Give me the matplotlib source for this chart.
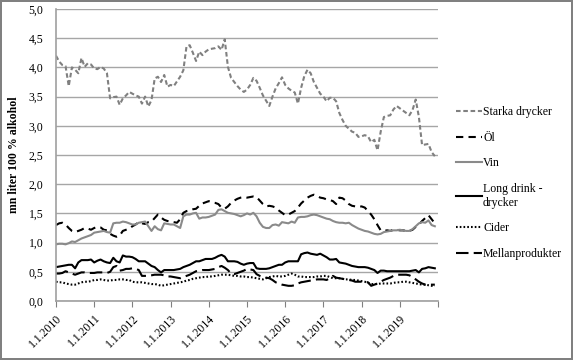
import numpy as np
import matplotlib
matplotlib.use("Agg")
import matplotlib.pyplot as plt

# monthly values, Jan 2010 .. Dec 2019 (mn liter 100 % alkohol)
starka = [4.20, 4.10, 4.04, 4.02, 3.68, 4.00, 3.96, 3.90, 4.16, 4.01, 4.07, 4.05,
          3.98, 3.97, 4.01, 3.98, 3.90, 3.47, 3.49, 3.50, 3.36, 3.47, 3.52, 3.58,
          3.55, 3.52, 3.50, 3.38, 3.50, 3.33, 3.44, 3.81, 3.84, 3.75, 3.87, 3.67,
          3.70, 3.68, 3.76, 3.84, 3.95, 4.36, 4.38, 4.25, 4.11, 4.27, 4.21, 4.27,
          4.31, 4.32, 4.33, 4.36, 4.30, 4.48, 4.01, 3.82, 3.75, 3.68, 3.62, 3.58,
          3.62, 3.70, 3.82, 3.77, 3.65, 3.52, 3.43, 3.34, 3.50, 3.64, 3.73, 3.83,
          3.70, 3.64, 3.60, 3.57, 3.38, 3.65, 3.85, 3.96, 3.90, 3.75, 3.65, 3.55,
          3.50, 3.42, 3.48, 3.48, 3.42, 3.22, 3.10, 3.00, 2.95, 2.90, 2.88, 2.81,
          2.82, 2.84, 2.82, 2.72, 2.76, 2.58, 2.90, 3.15, 3.17, 3.18, 3.28, 3.34,
          3.30, 3.26, 3.22, 3.18, 3.27, 3.45, 3.15, 2.67, 2.68, 2.69, 2.55, 2.48]

ol = [1.30, 1.33, 1.34, 1.31, 1.25, 1.20, 1.18, 1.20, 1.22, 1.25, 1.24, 1.22,
      1.25, 1.27, 1.26, 1.22, 1.21, 1.15, 1.12, 1.10, 1.12, 1.20, 1.22, 1.24,
      1.28, 1.31, 1.35, 1.33, 1.32, 1.35, 1.36, 1.42, 1.48, 1.43, 1.39, 1.37,
      1.36, 1.35, 1.34, 1.40, 1.51, 1.54, 1.55, 1.57, 1.58, 1.63, 1.67, 1.69,
      1.71, 1.69, 1.68, 1.66, 1.60, 1.58, 1.62, 1.68, 1.72, 1.75, 1.77, 1.78,
      1.77, 1.78, 1.79, 1.78, 1.72, 1.66, 1.62, 1.63, 1.62, 1.60, 1.55, 1.51,
      1.47, 1.48, 1.51, 1.54, 1.60, 1.67, 1.72, 1.77, 1.80, 1.82, 1.80, 1.77,
      1.76, 1.74, 1.73, 1.71, 1.66, 1.77, 1.76, 1.72, 1.66, 1.63, 1.62, 1.61,
      1.62, 1.60, 1.54, 1.48, 1.40, 1.30, 1.21, 1.20, 1.21, 1.20, 1.22, 1.22,
      1.21, 1.21, 1.20, 1.20, 1.22, 1.27, 1.31, 1.37, 1.42, 1.47, 1.40, 1.33]

vin = [0.97, 0.98, 0.98, 0.97, 0.99, 1.02, 1.01, 1.04, 1.07, 1.09, 1.11, 1.13,
       1.17, 1.18, 1.19, 1.20, 1.18, 1.17, 1.33, 1.34, 1.34, 1.36, 1.35, 1.33,
       1.31, 1.31, 1.34, 1.35, 1.36, 1.28, 1.20, 1.28, 1.23, 1.21, 1.33, 1.32,
       1.31, 1.31, 1.28, 1.25, 1.45, 1.48, 1.48, 1.50, 1.51, 1.41, 1.43, 1.43,
       1.44, 1.46, 1.48, 1.56, 1.57, 1.54, 1.51, 1.50, 1.49, 1.47, 1.45, 1.47,
       1.50, 1.48, 1.51, 1.45, 1.34, 1.27, 1.25, 1.25, 1.30, 1.31, 1.29, 1.35,
       1.34, 1.33, 1.36, 1.34, 1.43, 1.44, 1.44, 1.45, 1.47, 1.48, 1.47, 1.45,
       1.43, 1.41, 1.40, 1.37, 1.35, 1.34, 1.34, 1.33, 1.34, 1.30, 1.27, 1.24,
       1.22, 1.20, 1.19, 1.17, 1.15, 1.14, 1.15, 1.18, 1.19, 1.20, 1.21, 1.21,
       1.22, 1.21, 1.20, 1.20, 1.23, 1.28, 1.33, 1.35, 1.34, 1.38, 1.30, 1.28]

long_drink = [0.58, 0.59, 0.60, 0.61, 0.62, 0.62, 0.56, 0.66, 0.70, 0.70, 0.70, 0.71,
              0.66, 0.69, 0.71, 0.68, 0.66, 0.65, 0.74, 0.68, 0.66, 0.78, 0.76, 0.76,
              0.75, 0.72, 0.68, 0.68, 0.68, 0.64, 0.60, 0.58, 0.53, 0.49, 0.53, 0.53,
              0.53, 0.53, 0.54, 0.55, 0.58, 0.60, 0.62, 0.65, 0.68, 0.68, 0.70, 0.72,
              0.72, 0.72, 0.74, 0.77, 0.79, 0.76, 0.68, 0.68, 0.68, 0.67, 0.64, 0.62,
              0.64, 0.65, 0.65, 0.56, 0.55, 0.55, 0.55, 0.56, 0.58, 0.60, 0.62, 0.62,
              0.66, 0.68, 0.68, 0.68, 0.68, 0.80, 0.82, 0.83, 0.81, 0.80, 0.79, 0.81,
              0.78, 0.75, 0.71, 0.71, 0.72, 0.66, 0.65, 0.64, 0.62, 0.60, 0.59, 0.58,
              0.58, 0.58, 0.57, 0.55, 0.53, 0.48, 0.52, 0.52, 0.51, 0.51, 0.51, 0.51,
              0.51, 0.51, 0.51, 0.51, 0.52, 0.53, 0.49, 0.55, 0.56, 0.58, 0.57, 0.56]

cider = [0.33, 0.32, 0.32, 0.30, 0.29, 0.28, 0.28, 0.30, 0.32, 0.33, 0.33, 0.34,
         0.36, 0.36, 0.37, 0.36, 0.35, 0.35, 0.36, 0.36, 0.37, 0.37, 0.36, 0.36,
         0.33, 0.32, 0.32, 0.32, 0.31, 0.30, 0.29, 0.29, 0.28, 0.26, 0.27, 0.28,
         0.29, 0.30, 0.31, 0.32, 0.33, 0.35, 0.36, 0.38, 0.39, 0.40, 0.41, 0.41,
         0.42, 0.42, 0.43, 0.44, 0.45, 0.45, 0.45, 0.44, 0.43, 0.43, 0.42, 0.42,
         0.41, 0.41, 0.40, 0.39, 0.38, 0.37, 0.39, 0.41, 0.42, 0.43, 0.42, 0.42,
         0.43, 0.45, 0.47, 0.45, 0.42, 0.42, 0.41, 0.41, 0.41, 0.41, 0.42, 0.42,
         0.43, 0.43, 0.41, 0.39, 0.39, 0.39, 0.38, 0.37, 0.37, 0.36, 0.36, 0.35,
         0.34, 0.33, 0.31, 0.29, 0.29, 0.29, 0.30, 0.30, 0.30, 0.30, 0.31, 0.32,
         0.32, 0.33, 0.33, 0.32, 0.31, 0.30, 0.29, 0.28, 0.28, 0.27, 0.26, 0.26]

mellan = [0.47, 0.47, 0.48, 0.51, 0.49, 0.47, 0.45, 0.47, 0.49, 0.49, 0.48, 0.48,
          0.48, 0.49, 0.49, 0.49, 0.48, 0.50, 0.58, 0.60, 0.52, 0.53, 0.55, 0.55,
          0.56, 0.55, 0.53, 0.43, 0.43, 0.43, 0.44, 0.45, 0.45, 0.45, 0.44, 0.42,
          0.42, 0.41, 0.40, 0.39, 0.41, 0.43, 0.45, 0.48, 0.51, 0.52, 0.53, 0.53,
          0.53, 0.54, 0.55, 0.58, 0.60, 0.57, 0.53, 0.47, 0.46, 0.48, 0.50, 0.52,
          0.55, 0.54, 0.53, 0.46, 0.43, 0.41, 0.40, 0.39, 0.36, 0.32, 0.30, 0.28,
          0.27, 0.26, 0.26, 0.27, 0.30, 0.32, 0.33, 0.34, 0.35, 0.36, 0.37, 0.37,
          0.37, 0.36, 0.39, 0.43, 0.40, 0.39, 0.38, 0.37, 0.36, 0.35, 0.33, 0.33,
          0.33, 0.33, 0.32, 0.26, 0.28, 0.30, 0.33, 0.36, 0.38, 0.40, 0.43, 0.45,
          0.45, 0.45, 0.45, 0.44, 0.41, 0.37, 0.33, 0.30, 0.28, 0.28, 0.28, 0.28]

years = list(range(2010, 2020))
x_tick_labels = ["1.1.%d" % y for y in years]
y_ticks = [0.0, 0.5, 1.0, 1.5, 2.0, 2.5, 3.0, 3.5, 4.0, 4.5, 5.0]
y_tick_labels = ["0,0", "0,5", "1,0", "1,5", "2,0", "2,5", "3,0", "3,5", "4,0", "4,5", "5,0"]

plt.rcParams["font.family"] = ["Liberation Serif", "DejaVu Serif"]

fig = plt.figure(figsize=(5.73, 3.6), dpi=100)
fig.patch.set_edgecolor("#808080")
fig.patch.set_linewidth(1.5)
ax = fig.add_axes([56 / 573, 1 - 301 / 360, 382 / 573, 292 / 360])

months = np.arange(len(starka))
lw = 1.5
ax.plot(months, starka, color="#808080", lw=lw, linestyle=(0, (2.2, 1.3)), label="Starka drycker")
ax.plot(months, ol, color="black", lw=lw, linestyle=(0, (3.5, 2.5)), label="Öl")
ax.plot(months, vin, color="#8a8a8a", lw=lw, label="Vin")
ax.plot(months, long_drink, color="black", lw=lw, label="Long drink -\ndrycker")
ax.plot(months, cider, color="black", lw=lw, linestyle=(0, (0.8, 1.0)), label="Cider")
ax.plot(months, mellan, color="black", lw=lw, linestyle=(0, (6, 2.5)), label="Mellanprodukter")

ax.set_xlim(0, 120)
ax.set_ylim(0, 5.0)
ax.set_yticks(y_ticks)
ax.set_yticklabels(y_tick_labels, fontsize=8.5)
ax.set_xticks([12 * i for i in range(len(years))] + [120])
ax.set_xticklabels(x_tick_labels + [""], fontsize=8.5, rotation=45,
                   ha="right", va="top", rotation_mode="anchor")
ax.tick_params(axis="y", length=0, pad=9)
ax.tick_params(axis="x", length=4, color="#808080", pad=4)
ax.grid(axis="y", color="#a6a6a6", lw=1)
ax.set_axisbelow(True)
for side in ["top", "right"]:
    ax.spines[side].set_visible(False)
for side in ["left", "bottom"]:
    ax.spines[side].set_color("#a0a0a0")
    ax.spines[side].set_linewidth(1.2)

ax.set_ylabel("mn liter 100 % alkohol", fontsize=8.5, fontweight="bold")
ax.yaxis.set_label_coords(-0.095, 0.5)

fig.legend(loc="center left", bbox_to_anchor=(450 / 573, 1 - 183 / 360),
           frameon=False, fontsize=8.5, handlelength=2.2, handletextpad=0.1,
           labelspacing=1.15, borderpad=0)

fig.savefig("out.png", dpi=100)
